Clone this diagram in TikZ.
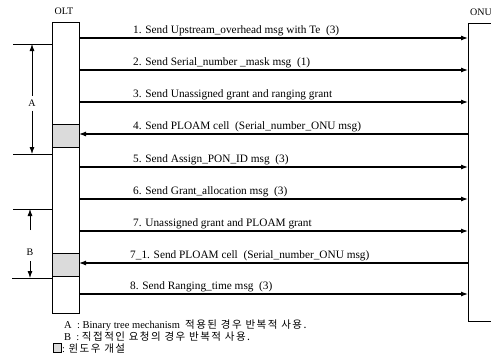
\documentclass[tikz,border=0pt]{standalone}
\usepackage{fontspec}
\setmainfont{Liberation Serif}
\newfontfamily\kr[LetterSpace=14]{Noto Sans CJK KR}
\usetikzlibrary{arrows.meta}
\begin{document}
\begin{tikzpicture}[x=1pt,y=-1pt,
  msg/.style={line width=1.1pt,-{Latex[length=7pt,width=5pt]}},
  lbl/.style={anchor=base west,inner sep=0pt,font=\fontsize{11.3}{12}\selectfont},
  life/.style={draw,line width=0.9pt},
  win/.style={draw,line width=0.9pt,fill=black!14},
  brk/.style={line width=0.8pt},
  brkar/.style={line width=0.8pt,-{Latex[length=7pt,width=5pt]}},
  leg/.style={anchor=base west,inner sep=0pt,font=\fontsize{10.5}{11}\selectfont}]
\useasboundingbox (0,0) rectangle (491,360);
\path[clip] (0,0) rectangle (491,360);
% lifelines
\node[life,anchor=north west,minimum width=27pt,minimum height=291pt,inner sep=0pt] (olt) at (52,22) {};
\node[life,anchor=north west,minimum width=80pt,minimum height=298pt,inner sep=0pt] (onu) at (468,23) {};
\node[font=\fontsize{10}{11}\selectfont,inner sep=0pt] (oltl) at (64,11) {OLT};
\node[font=\fontsize{10}{11}\selectfont,inner sep=0pt] (onul) at (481,12) {ONU};
% windows
\node[win,anchor=north west,minimum width=27pt,minimum height=23pt,inner sep=0pt] (w1) at (52,124) {};
\node[win,anchor=north west,minimum width=27pt,minimum height=23pt,inner sep=0pt] (w2) at (52,253) {};
% coordinates on lifelines
\foreach \i/\y in {1/38,2/70,3/102,4/134,5/167,6/199,7/231,71/263,8/294}{
  \coordinate (o\i) at (79,\y);
  \coordinate (n\i) at (468,\y);
}
\draw[msg] (o1) -- (n1);
\draw[msg] (o2) -- (n2);
\draw[msg] (o3) -- (n3);
\draw[msg] (n4) -- (o4);
\draw[msg] (o5) -- (n5);
\draw[msg] (o6) -- (n6);
\draw[msg] (o7) -- (n7);
\draw[msg] (n71) -- (o71);
\draw[msg] (o8) -- (n8);
\node[lbl] (l1) at (133,33) {1. Send Upstream\_overhead msg with Te~~(3)};
\node[lbl] (l2) at (133,65) {2. Send Serial\_number \_mask msg~~(1)};
\node[lbl] (l3) at (133,97) {3. Send Unassigned grant and ranging grant};
\node[lbl] (l4) at (133,129) {4. Send PLOAM cell~~(Serial\_number\_ONU msg)};
\node[lbl] (l5) at (133,162) {5. Send Assign\_PON\_ID msg~~(3)};
\node[lbl] (l6) at (133,194) {6. Send Grant\_allocation msg~~(3)};
\node[lbl] (l7) at (133,226) {7. Unassigned grant and PLOAM grant};
\node[lbl] (l71) at (130,258) {7\_1. Send PLOAM cell~~(Serial\_number\_ONU msg)};
\node[lbl] (l8) at (130,289) {8. Send Ranging\_time msg~~(3)};
% bracket A
\coordinate (at0) at (13,44); \coordinate (at1) at (52,44);
\coordinate (ab0) at (13,154); \coordinate (ab1) at (52,154);
\draw[brk] (at0) -- (at1);
\draw[brk] (ab0) -- (ab1);
\node[font=\fontsize{10}{11}\selectfont,inner sep=1pt] (la) at (32,103) {A};
\coordinate (aat) at (32,44); \coordinate (aab) at (32,154);
\draw[brkar] (la.north) ++(0,-3) -- (aat);
\draw[brkar] (la.south) ++(0,3) -- (aab);
% bracket B
\coordinate (bt0) at (13,209); \coordinate (bt1) at (52,209);
\coordinate (bb0) at (12,278); \coordinate (bb1) at (52,278);
\draw[brk] (bt0) -- (bt1);
\draw[brk] (bb0) -- (bb1);
\node[font=\fontsize{10}{11}\selectfont,inner sep=1pt] (lb) at (30,252) {B};
\coordinate (bat) at (30,209); \coordinate (bab) at (30,278);
\draw[brkar] (30,230) -- (bat);
\draw[brkar] (30,261) -- (bab);
% legend
\node[leg] (ga) at (64,328) {A~~: Binary tree mechanism~~{\kr 적용된 경우 반복적 사용.}};
\node[leg] (gb) at (64,340) {B~~: {\kr 직접적인 요청의 경우 반복적 사용.}};
\node[win,anchor=north west,minimum width=8pt,minimum height=9pt,inner sep=0pt,line width=0.7pt] (gs) at (53,343) {};
\node[leg] (gc) at (62,352) {: {\kr 윈도우 개설}};
\end{tikzpicture}
\end{document}
